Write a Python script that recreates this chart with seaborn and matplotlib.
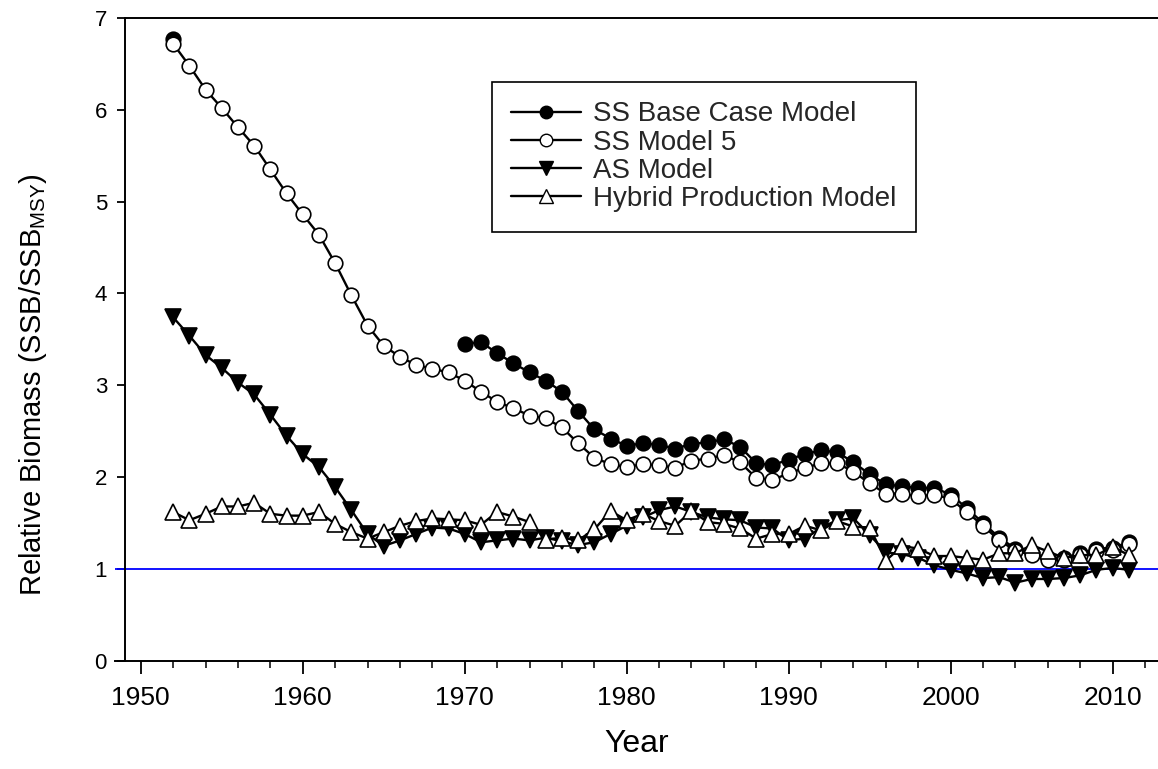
import numpy as np
import pandas as pd
import seaborn as sns
from matplotlib import pyplot as plt
from matplotlib.lines import Line2D

years = list(range(1952, 2012))

# SS base case: 1952 point, then a gap until 1970
ss_base = [6.77] + [np.nan] * 17 + [
    3.45, 3.47, 3.35, 3.24, 3.14, 3.05, 2.93, 2.72, 2.52, 2.42,
    2.34, 2.37, 2.35, 2.31, 2.36, 2.38, 2.41, 2.33, 2.15, 2.13,
    2.19, 2.25, 2.29, 2.27, 2.16, 2.03, 1.92, 1.90, 1.88, 1.88,
    1.81, 1.66, 1.50, 1.34, 1.22, 1.17, 1.12, 1.12, 1.17, 1.22,
    1.23, 1.29]

ss_model5 = [
    6.72, 6.48, 6.22, 6.02, 5.81, 5.61, 5.35, 5.09,
    4.86, 4.64, 4.33, 3.98, 3.65, 3.43, 3.31, 3.22, 3.18, 3.14,
    3.05, 2.93, 2.82, 2.75, 2.67, 2.64, 2.54, 2.37, 2.21, 2.14,
    2.11, 2.14, 2.13, 2.10, 2.18, 2.20, 2.24, 2.16, 1.99, 1.97,
    2.04, 2.10, 2.15, 2.15, 2.06, 1.93, 1.82, 1.82, 1.79, 1.81,
    1.76, 1.62, 1.47, 1.31, 1.20, 1.15, 1.10, 1.10, 1.15, 1.20,
    1.21, 1.27]

as_model = [
    3.74, 3.54, 3.33, 3.19, 3.03, 2.90, 2.68, 2.45,
    2.25, 2.11, 1.89, 1.64, 1.38, 1.25, 1.31, 1.38, 1.45, 1.44,
    1.38, 1.29, 1.31, 1.33, 1.31, 1.34, 1.30, 1.26, 1.29, 1.38,
    1.47, 1.56, 1.64, 1.68, 1.62, 1.56, 1.54, 1.53, 1.45, 1.44,
    1.31, 1.33, 1.45, 1.53, 1.55, 1.37, 1.18, 1.16, 1.12, 1.04,
    0.99, 0.95, 0.90, 0.91, 0.85, 0.89, 0.89, 0.90, 0.93, 0.99,
    1.01, 0.99]

hybrid = [
    1.62, 1.53, 1.60, 1.68, 1.68, 1.72, 1.60, 1.58,
    1.58, 1.62, 1.49, 1.40, 1.33, 1.40, 1.47, 1.52, 1.55, 1.54,
    1.53, 1.48, 1.62, 1.57, 1.51, 1.32, 1.34, 1.31, 1.43, 1.63,
    1.53, 1.60, 1.52, 1.47, 1.63, 1.51, 1.49, 1.44, 1.33, 1.38,
    1.38, 1.47, 1.42, 1.52, 1.46, 1.45, 1.09, 1.25, 1.22, 1.14,
    1.14, 1.12, 1.10, 1.17, 1.17, 1.26, 1.19, 1.12, 1.15, 1.15,
    1.24, 1.15]

labels = ["SS Base Case Model", "SS Model 5", "AS Model", "Hybrid Production Model"]

sns.set_theme(style="ticks")
plt.rcParams['font.family'] = ['Liberation Sans', 'DejaVu Sans']
plt.rcParams['mathtext.default'] = 'regular'

fig = plt.figure(figsize=(11.58, 7.69), dpi=100)
ax = fig.add_axes([115 / 1158, 1 - 660.7 / 769, 1 - 115 / 1158, (660.7 - 18) / 769])

# base case has a gap -> split in segments so the line is not bridged
df_base = pd.DataFrame({'year': years, 'val': ss_base})
df_base['seg'] = df_base['val'].isna().cumsum()
df_base = df_base.dropna()

lw = 1.7
ms = 10.5
ax.axhline(1, color='#0000ff', lw=1.3, zorder=1)
sns.lineplot(data=df_base, x='year', y='val', units='seg', estimator=None, ax=ax,
             color='black', lw=lw, marker='o', markersize=ms,
             markerfacecolor='black', markeredgecolor='black', markeredgewidth=1.2, zorder=2)
sns.lineplot(x=years, y=ss_model5, ax=ax, color='black', lw=lw, marker='o', markersize=ms,
             markerfacecolor='white', markeredgecolor='black', markeredgewidth=1.2, zorder=3)
sns.lineplot(x=years, y=as_model, ax=ax, color='black', lw=lw, marker='v', markersize=ms + 1,
             markerfacecolor='black', markeredgecolor='black', markeredgewidth=1.2, zorder=4)
sns.lineplot(x=years, y=hybrid, ax=ax, color='black', lw=lw, marker='^', markersize=ms + 1,
             markerfacecolor='white', markeredgecolor='black', markeredgewidth=1.2, zorder=5)

x_left, x_spine, x_right = 1948.41, 1949.03, 2012.8
ax.set_xlim(x_left, x_right)
ax.set_ylim(0, 7)
ax.spines['left'].set_position(('data', x_spine))
ax.spines['top'].set_bounds(x_spine, x_right)
ax.spines['right'].set_visible(False)
for s in ['left', 'top', 'bottom']:
    ax.spines[s].set_linewidth(1.4)
    ax.spines[s].set_color('black')

ax.set_xticks(range(1950, 2011, 10))
ax.set_xticks(range(1952, 2013, 2), minor=True)
ax.set_yticks(range(0, 8))
ax.tick_params(axis='x', which='major', direction='out', length=9, width=1.3, labelsize=19, pad=9, colors='black')
ax.tick_params(axis='x', which='minor', direction='out', length=5, width=1.3)
ax.tick_params(axis='y', which='major', direction='out', length=6, width=1.3, labelsize=16, pad=7, colors='black')
ax.tick_params(top=False, right=False)

ax.set_xlabel("Year", fontsize=23, labelpad=14, color='black')
ax.set_ylabel("Relative Biomass (SSB/SSB$_{MSY}$)", fontsize=21, color='black')
ax.yaxis.set_label_coords(-0.063, 0.43)

handles = [
    Line2D([], [], color='black', lw=lw, marker='o', markersize=9, markerfacecolor='black', markeredgecolor='black'),
    Line2D([], [], color='black', lw=lw, marker='o', markersize=9, markerfacecolor='white', markeredgecolor='black'),
    Line2D([], [], color='black', lw=lw, marker='v', markersize=10, markerfacecolor='black', markeredgecolor='black'),
    Line2D([], [], color='black', lw=lw, marker='^', markersize=10, markerfacecolor='white', markeredgecolor='black'),
]
leg = ax.legend(handles, labels, loc='upper left', bbox_to_anchor=(492 / 1158, 1 - 82 / 769),
                bbox_transform=fig.transFigure, borderaxespad=0, fontsize=20, frameon=True,
                fancybox=False, framealpha=1, edgecolor='black', handlelength=2.5,
                handletextpad=0.45, labelspacing=0.08, borderpad=0.7)
leg.get_frame().set_linewidth(1.2)

fig.savefig("out.png", dpi=100)
